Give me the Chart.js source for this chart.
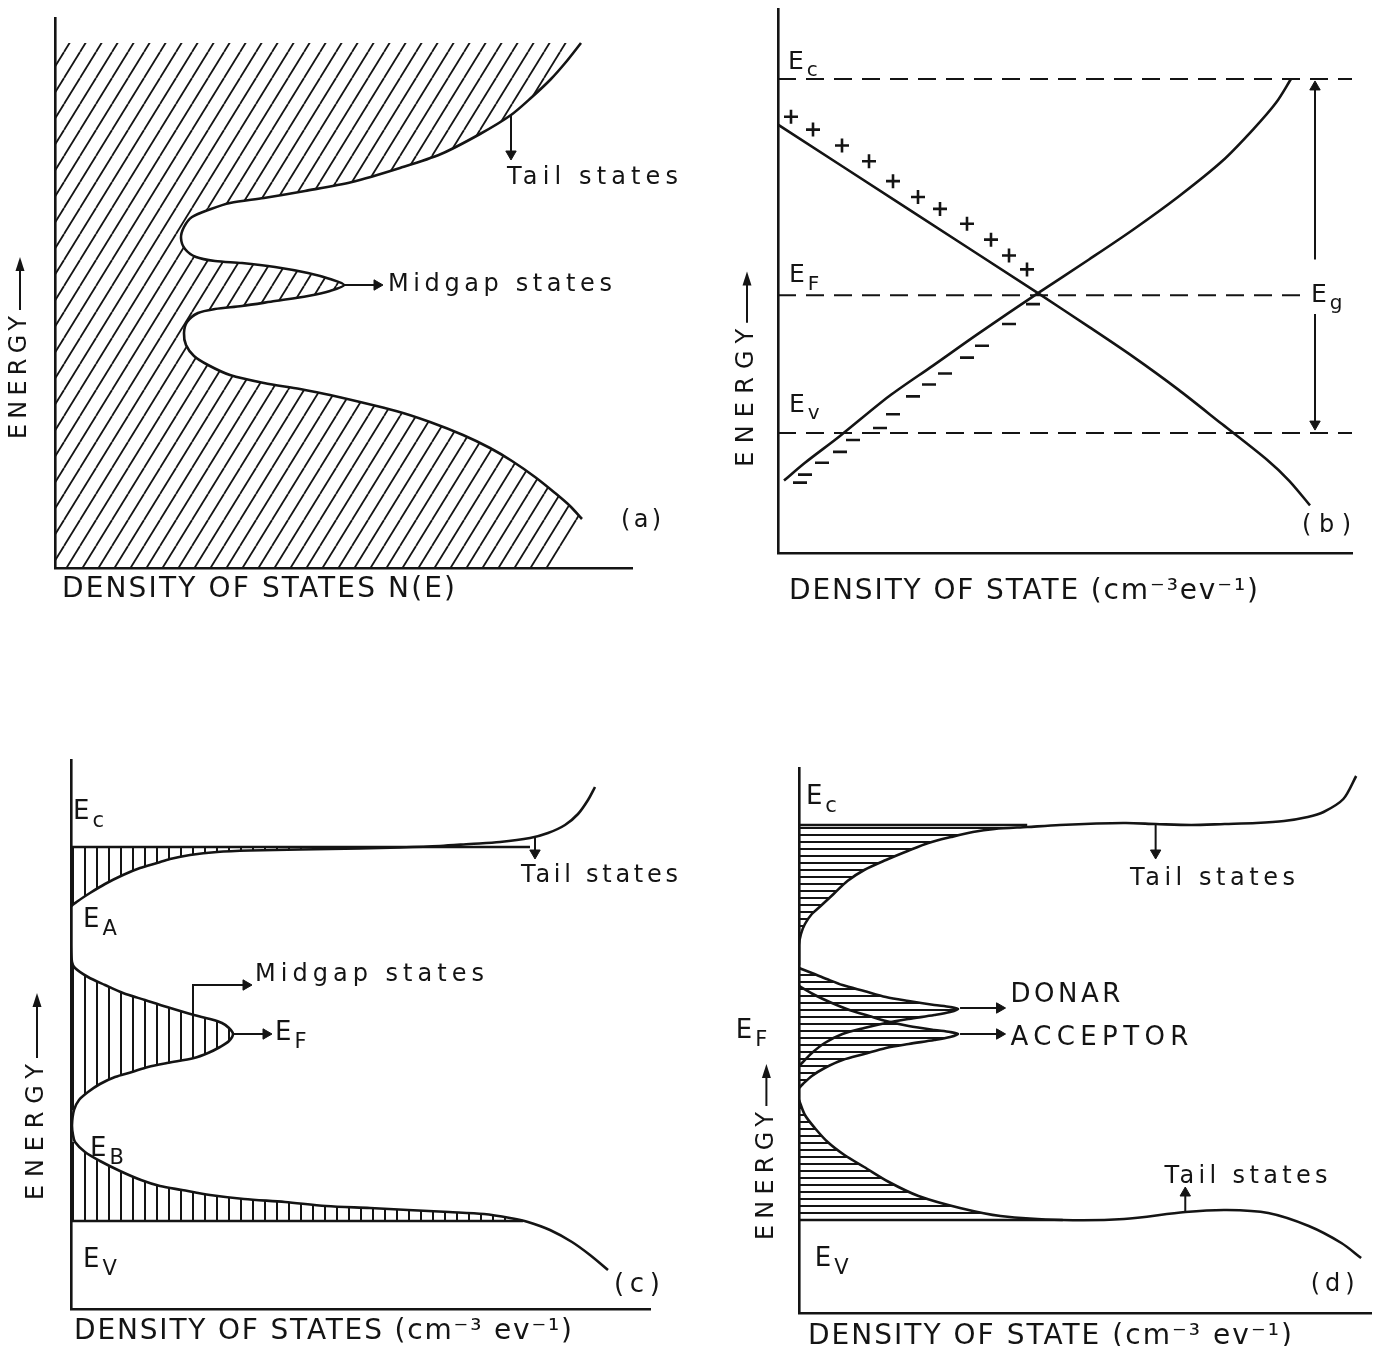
<!DOCTYPE html>
<html>
<head>
<meta charset="utf-8">
<script src="https://cdn.jsdelivr.net/npm/chart.js@4.4.1/dist/chart.umd.min.js"></script>
<style>
  html, body { margin: 0; padding: 0; background: #fff; }
  #page { position: relative; width: 1378px; height: 1346px; }
  canvas { position: absolute; }
</style>
</head>
<body>
<div id="page">
  <canvas id="panelA" width="689" height="673" style="left:0;top:0"></canvas>
  <canvas id="panelB" width="689" height="673" style="left:689px;top:0"></canvas>
  <canvas id="panelC" width="689" height="673" style="left:0;top:673px"></canvas>
  <canvas id="panelD" width="689" height="673" style="left:689px;top:673px"></canvas>
</div>
<script>
const INK = "#141414";

// all values are [density, energy] in arbitrary units

// (a) continuous DOS with midgap states
const aDos = [
  [52.6, 52.5], [51.1, 50.6], [49.6, 48.9], [47.7, 47.1], [45.6, 45.3], [42.5, 43.4],
  [38.6, 41.4], [34.5, 40.0], [29.7, 38.6], [25.0, 37.7], [20.9, 37.0], [17.5, 36.5],
  [15.6, 35.9], [13.7, 35.1], [12.9, 34.1], [12.6, 33.0], [13.0, 31.9], [14.1, 31.1],
  [16.0, 30.7], [18.7, 30.5], [22.0, 30.1], [25.3, 29.5], [27.5, 28.9], [28.9, 28.3],
  [27.5, 27.7], [25.3, 27.2], [22.0, 26.7], [18.7, 26.2], [16.0, 25.9], [14.3, 25.5],
  [13.2, 24.6], [12.9, 23.5], [13.1, 22.3], [13.9, 21.2], [15.3, 20.3], [17.5, 19.3],
  [20.9, 18.5], [24.5, 17.9], [27.5, 17.3], [34.1, 15.7], [37.5, 14.6], [40.8, 13.3],
  [43.5, 12.0], [45.7, 10.7], [48.0, 9.1], [50.0, 7.5], [51.5, 6.2], [52.7, 4.9]
];

// (b) linear tails crossing at the Fermi level
const bDecreasing = [
  [0, 43.2], [13.0, 34.7], [26.0, 26.2], [31.1, 22.8], [35.5, 19.8], [40.0, 16.5],
  [44.4, 13.0], [48.9, 9.4], [51.1, 7.3], [53.2, 4.8]
];
const bIncreasing = [
  [0.6, 7.3], [2.7, 9.1], [6.2, 11.8], [11.1, 15.8], [15.5, 18.9], [20.0, 22.1],
  [26.0, 26.2], [31.1, 29.6], [35.5, 32.6], [40.0, 35.9], [44.4, 39.5], [47.5, 42.7],
  [49.8, 45.4], [51.3, 47.8]
];
const bPlus = [
  [1.3, 44.0], [3.5, 42.7], [6.4, 41.1], [9.1, 39.5], [11.5, 37.5], [14.0, 35.9],
  [16.2, 34.7], [18.9, 33.2], [21.3, 31.6], [23.1, 30.0], [24.9, 28.6]
];
const bMinus = [
  [25.5, 25.1], [23.1, 23.1], [20.4, 20.9], [18.9, 19.7], [16.7, 18.1], [15.1, 17.0],
  [13.5, 15.8], [11.5, 14.0], [10.2, 12.6], [7.5, 11.4], [6.2, 10.2], [4.4, 9.1],
  [2.7, 7.9], [2.2, 7.1]
];
const bLevels = { Ec: 47.8, EF: 26.0, Ev: 12.1 };

// (c) tails plus a single midgap band
const cCond = [
  [52.4, 52.2], [51.7, 50.9], [50.7, 49.5], [49.4, 48.4], [47.7, 47.6], [45.9, 47.1],
  [42.9, 46.7], [39.9, 46.5], [36.9, 46.3], [32.9, 46.15], [28.9, 46.05], [22.9, 45.95],
  [17.9, 45.85], [14.6, 45.7], [11.9, 45.4], [9.9, 45.0], [8.6, 44.6], [6.9, 44.1],
  [5.2, 43.4], [3.4, 42.5], [1.9, 41.6], [0.7, 40.8], [0, 40.2]
];
const cMid = [
  [0, 38.4], [0, 36.4], [0.1, 34.7], [0.4, 34.1], [1.7, 33.2], [3.4, 32.4], [5.2, 31.6],
  [7.4, 30.9], [9.6, 30.2], [12.3, 29.4], [13.9, 29.0], [15.1, 28.6], [15.8, 28.1],
  [16.2, 27.5], [15.8, 26.8], [14.9, 26.2], [13.7, 25.6], [12.3, 25.1], [9.6, 24.6],
  [7.7, 24.2], [6.1, 23.7], [4.4, 23.2], [2.9, 22.5], [1.7, 21.7], [0.8, 20.9],
  [0.3, 19.9], [0.1, 18.4], [0.2, 17.4]
];
const cVal = [
  [0.4, 16.7], [1.4, 15.7], [2.9, 14.8], [4.9, 13.8], [7.0, 12.9], [8.9, 12.3],
  [11.1, 11.9], [13.9, 11.4], [17.3, 11.0], [21.4, 10.7], [25.5, 10.3], [29.9, 10.1],
  [33.7, 9.9], [37.8, 9.7], [41.3, 9.5], [43.9, 9.1], [45.7, 8.7], [47.9, 7.9],
  [50.1, 6.7], [51.9, 5.4], [53.7, 3.9]
];
const cLevels = { Ec: 46.2, Ev: 8.8 };

// (d) tails plus donor and acceptor bands
const dCond = [
  [56.4, 53.7], [55.1, 51.4], [53.1, 50.1], [51.5, 49.6], [49.1, 49.2], [46.3, 49.0],
  [43.1, 48.9], [39.7, 48.8], [36.1, 48.9], [33.1, 49.0], [30.1, 48.95], [26.4, 48.8],
  [23.1, 48.6], [19.8, 48.4], [17.6, 48.1], [15.4, 47.6], [13.1, 47.0], [11.0, 46.2],
  [8.8, 45.3], [6.6, 44.3], [4.9, 43.2], [3.5, 41.9], [2.3, 40.8], [1.3, 39.9],
  [0.6, 38.9], [0.2, 37.9], [0, 36.8], [0, 34.8]
];
const dDonor = [
  [0, 34.5], [1.3, 34.0], [2.8, 33.4], [4.4, 32.8], [6.6, 32.2], [8.8, 31.6],
  [11.1, 31.2], [13.7, 30.8], [15.3, 30.6], [16.1, 30.4], [15.3, 30.1], [13.7, 29.8],
  [11.1, 29.4], [8.8, 29.0], [6.6, 28.5], [4.4, 27.9], [2.6, 27.0], [1.3, 26.0],
  [0.4, 25.1], [0, 24.7]
];
const dAcceptor = [
  [0, 32.7], [1.6, 31.8], [3.1, 31.1], [5.1, 30.3], [7.1, 29.7], [8.8, 29.2],
  [11.1, 28.7], [13.7, 28.3], [15.3, 28.1], [16.1, 27.9], [15.3, 27.6], [13.7, 27.3],
  [11.1, 26.9], [8.8, 26.5], [6.6, 25.9], [4.4, 25.3], [2.6, 24.5], [1.3, 23.7],
  [0.4, 22.9], [0, 22.5]
];
const dVal = [
  [0, 21.3], [0.6, 19.8], [1.6, 18.5], [2.9, 17.1], [4.6, 15.8], [6.6, 14.6],
  [9.1, 13.1], [12.1, 11.7], [16.3, 10.5], [20.4, 9.7], [26.7, 9.3], [32.9, 9.4],
  [39.1, 10.1], [43.3, 10.3], [47.5, 10.0], [51.6, 8.7], [54.9, 7.0], [56.9, 5.5]
];
const dLevels = { Ec: 48.8, Ev: 9.3 };

// ---------- helpers ----------
function xy(pts) {
  return pts.map(([x, y]) => ({ x, y }));
}

function hatch(kind) {
  const c = document.createElement("canvas");
  const g = c.getContext("2d");
  if (kind === "diag") {
    c.width = 16; c.height = 26;
    g.strokeStyle = INK; g.lineWidth = 1.8;
    for (const k of [-1, 0, 1]) {
      g.beginPath(); g.moveTo(k * 16, 26); g.lineTo(k * 16 + 16, 0); g.stroke();
    }
  } else if (kind === "vert") {
    c.width = 12; c.height = 4;
    g.fillStyle = INK; g.fillRect(0, 0, 2, 4);
  } else {
    c.width = 4; c.height = 7;
    g.fillStyle = INK; g.fillRect(0, 0, 4, 2);
  }
  return g.createPattern(c, "repeat");
}

const curve = (pts, width) => ({
  data: xy(pts), borderColor: INK, borderWidth: width || 2.6, tension: 0.3,
  pointRadius: 0, fill: false
});
const shaded = (pts, pattern) => ({
  data: xy(pts), borderColor: "transparent", borderWidth: 0, backgroundColor: pattern,
  fill: "shape", tension: 0, pointRadius: 0
});
const level = (y, x0, x1, dashed) => ({
  data: xy([[x0, y], [x1, y]]), borderColor: INK, borderWidth: dashed ? 2 : 2.6,
  borderDash: dashed ? [18, 10] : [], pointRadius: 0, fill: false
});
const arrow = (pts, rot) => ({
  data: xy(pts), borderColor: INK, borderWidth: 2, tension: 0, fill: false,
  pointRadius: pts.map((p, i) => (i === pts.length - 1 ? 6 : 0)),
  pointStyle: "triangle", pointRotation: rot,
  pointBackgroundColor: INK, pointBorderColor: INK, pointBorderWidth: 1
});
const marks = (pts, style) => ({
  data: xy(pts), showLine: false, pointStyle: style, pointRadius: 7,
  pointBorderColor: INK, pointBorderWidth: 2.6, pointBackgroundColor: INK
});

function drawFitted(ctx, text, w) {
  if ("letterSpacing" in ctx) ctx.letterSpacing = "0px";
  const m = ctx.measureText(text).width;
  if (!w) { ctx.fillText(text, 0, 0); return m; }
  const gap = (w - m) / Math.max(text.length - 1, 1);
  if (gap >= 0 && "letterSpacing" in ctx) {
    ctx.letterSpacing = gap + "px";
    ctx.fillText(text, 0, 0);
    ctx.letterSpacing = "0px";
  } else {
    ctx.save(); ctx.scale(w / m, 1); ctx.fillText(text, 0, 0); ctx.restore();
  }
  return w;
}

const notesPlugin = {
  id: "notes",
  afterDraw(chart, args, opts) {
    const { ctx } = chart;
    const sx = chart.scales.x, sy = chart.scales.y;
    ctx.save();
    ctx.fillStyle = INK;
    ctx.strokeStyle = INK;
    ctx.textBaseline = "middle";
    ctx.textAlign = "left";
    for (const n of opts.items || []) {
      const px = sx.getPixelForValue(n.x);
      const py = sy.getPixelForValue(n.y);
      ctx.save();
      ctx.translate(px, py);
      if (n.rot) ctx.rotate(-Math.PI / 2);
      ctx.font = n.size + 'px "DejaVu Sans"';
      const w = drawFitted(ctx, n.t, n.w);
      if (n.sub) {
        ctx.font = Math.round(n.size * 0.8) + 'px "DejaVu Sans"';
        ctx.fillText(n.sub, w + 3, n.size * 0.36);
      }
      if (n.arrowTo !== undefined) {
        const len = py - sy.getPixelForValue(n.arrowTo);
        ctx.lineWidth = 2;
        ctx.beginPath(); ctx.moveTo(w + 6, 0); ctx.lineTo(len - 10, 0); ctx.stroke();
        ctx.beginPath();
        ctx.moveTo(len, 0); ctx.lineTo(len - 14, -4.5); ctx.lineTo(len - 14, 4.5);
        ctx.closePath(); ctx.fill();
      }
      ctx.restore();
    }
    ctx.restore();
  }
};

function axis(max) {
  return {
    type: "linear", min: 0, max: max,
    grid: { display: false, drawTicks: false },
    ticks: { display: false },
    border: { display: true, color: INK, width: 2.6 }
  };
}

function panel(id, datasets, xMax, yMax, padding, items) {
  return new Chart(document.getElementById(id), {
    type: "line",
    data: { datasets: datasets },
    options: {
      responsive: false,
      animation: false,
      devicePixelRatio: 1,
      events: [],
      layout: { padding: padding },
      plugins: {
        legend: { display: false },
        tooltip: { enabled: false },
        notes: { items: items }
      },
      scales: { x: axis(xMax), y: axis(yMax) }
    },
    plugins: [notesPlugin]
  });
}

// ---------- (a) ----------
panel("panelA", [
  shaded([[0, 52.5], ...aDos, [50.4, 0], [0, 0]], hatch("diag")),
  curve(aDos),
  arrow([[45.6, 45.3], [45.6, 41.4]], 180),
  arrow([[28.9, 28.3], [32.2, 28.3]], 90)
], 57.7, 55, { left: 55, top: 18, right: 57, bottom: 105 }, [
  { t: "Tail states", x: 45.2, y: 39.0, size: 24, w: 171 },
  { t: "Midgap states", x: 33.3, y: 28.3, size: 24, w: 224 },
  { t: "(a)", x: 56.6, y: 4.7, size: 24, w: 40 },
  { t: "DENSITY OF STATES N(E)", x: 0.7, y: -2.2, size: 28, w: 393 },
  { t: "ENERGY", x: -3.5, y: 12.9, size: 24, w: 123, rot: true, arrowTo: 31.1 }
]);

// ---------- (b) ----------
panel("panelB", [
  level(bLevels.Ec, 0, 57.4, true),
  level(bLevels.EF, 0, 53.0, true),
  level(bLevels.Ev, 0, 57.4, true),
  curve(bDecreasing),
  curve(bIncreasing),
  marks(bPlus, "cross"),
  marks(bMinus, "line"),
  arrow([[53.7, 29.6], [53.7, 47.0]], 0),
  arrow([[53.7, 24.1], [53.7, 13.0]], 180)
], 57.4, 54.8, { left: 89, top: 5, right: 26, bottom: 120 }, [
  { t: "E", sub: "c", x: 1.0, y: 49.5, size: 25 },
  { t: "E", sub: "F", x: 1.1, y: 28.0, size: 25 },
  { t: "E", sub: "v", x: 1.1, y: 14.9, size: 25 },
  { t: "E", sub: "g", x: 53.3, y: 26.0, size: 25 },
  { t: "(b)", x: 52.4, y: 2.7, size: 24, w: 49 },
  { t: "DENSITY OF STATE (cm\u207B\u00B3ev\u207B\u00B9)", x: 1.1, y: -3.9, size: 28, w: 469 },
  { t: "ENERGY", x: -3.1, y: 8.7, size: 24, w: 138, rot: true, arrowTo: 28.4 }
]);

// ---------- (c) ----------
const vert = hatch("vert");
panel("panelC", [
  shaded([[0, cLevels.Ec], [36.9, cLevels.Ec], ...cCond.filter((p) => p[0] <= 33)], vert),
  shaded([[0, 34.7], ...cMid.slice(3, 26), [0, 19.9]], vert),
  shaded([[0, 16.7], ...cVal.filter((p) => p[0] <= 43.9), [45.2, cLevels.Ev], [0, cLevels.Ev]], vert),
  level(cLevels.Ec, 0, 45.9, false),
  level(cLevels.Ev, 0, 45.2, false),
  curve([...cCond, ...cMid, ...cVal]),
  arrow([[46.4, 47.2], [46.4, 45.6]], 180),
  arrow([[12.2, 29.2], [12.2, 32.4], [17.5, 32.4]], 90),
  arrow([[16.3, 27.5], [19.5, 27.5]], 90)
], 57.9, 54.9, { left: 71, top: 87, right: 39, bottom: 37 }, [
  { t: "E", sub: "c", x: 0.2, y: 49.7, size: 26 },
  { t: "E", sub: "A", x: 1.2, y: 38.9, size: 26 },
  { t: "E", sub: "B", x: 1.9, y: 16.0, size: 26 },
  { t: "E", sub: "V", x: 1.2, y: 4.9, size: 26 },
  { t: "Midgap states", x: 18.4, y: 33.4, size: 24, w: 229 },
  { t: "E", sub: "F", x: 20.4, y: 27.6, size: 26 },
  { t: "Tail states", x: 45.0, y: 43.3, size: 24, w: 157 },
  { t: "(c)", x: 54.3, y: 2.4, size: 26, w: 46 },
  { t: "DENSITY OF STATES (cm\u207B\u00B3 ev\u207B\u00B9)", x: 0.3, y: -2.3, size: 28, w: 498 },
  { t: "ENERGY", x: -3.4, y: 10.9, size: 24, w: 136, rot: true, arrowTo: 31.6 }
]);

// ---------- (d) ----------
const horiz = hatch("horiz");
panel("panelD", [
  shaded([[0, dLevels.Ec], [23.1, dLevels.Ec], ...dCond.filter((p) => p[0] <= 23.1)], horiz),
  shaded(dDonor, horiz),
  shaded(dAcceptor, horiz),
  shaded([...dVal.filter((p) => p[0] <= 26.7), [0, dLevels.Ev]], horiz),
  level(dLevels.Ec, 0, 23.1, false),
  level(dLevels.Ev, 0, 26.7, false),
  curve(dCond),
  curve(dDonor),
  curve(dAcceptor),
  curve(dVal),
  arrow([[36.1, 48.8], [36.1, 46.0]], 180),
  arrow([[39.1, 10.1], [39.1, 12.0]], 0),
  arrow([[16.3, 30.5], [20.3, 30.5]], 90),
  arrow([[16.3, 27.9], [20.3, 27.9]], 90)
], 57.9, 54.5, { left: 110, top: 95, right: 0, bottom: 33 }, [
  { t: "E", sub: "c", x: 0.7, y: 51.6, size: 26 },
  { t: "Tail states", x: 33.5, y: 43.4, size: 24, w: 165 },
  { t: "DONAR", x: 21.4, y: 31.8, size: 26, w: 110 },
  { t: "ACCEPTOR", x: 21.4, y: 27.5, size: 26, w: 178 },
  { t: "E", sub: "F", x: -6.4, y: 28.2, size: 26 },
  { t: "ENERGY", x: -3.3, y: 7.3, size: 24, w: 128, rot: true, arrowTo: 24.9 },
  { t: "Tail states", x: 37.0, y: 13.6, size: 24, w: 163 },
  { t: "E", sub: "V", x: 1.6, y: 5.4, size: 26 },
  { t: "(d)", x: 51.8, y: 2.8, size: 24, w: 44 },
  { t: "DENSITY OF STATE (cm\u207B\u00B3 ev\u207B\u00B9)", x: 0.9, y: -2.4, size: 28, w: 484 }
]);
</script>
</body>
</html>
